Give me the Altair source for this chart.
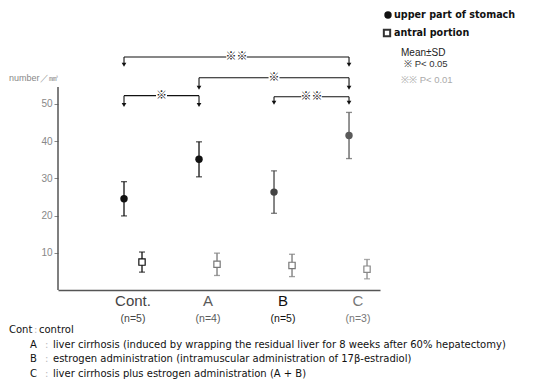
import altair as alt
import pandas as pd

# ---- data ----
groups = ["Cont.", "A", "B", "C"]
n_labels = ["(n=5)", "(n=4)", "(n=5)", "(n=3)"]
upper_mean = [24.5, 35.1, 26.3, 41.5]
upper_sd = [4.6, 4.7, 5.7, 6.2]
antral_mean = [7.5, 6.9, 6.6, 5.6]
antral_sd = [2.7, 3.0, 3.0, 2.6]

# significance brackets
br_from = ["Cont.", "A", "Cont.", "B"]
br_to = ["C", "C", "A", "C"]
br_level = [62.6, 57.0, 52.2, 51.9]
br_tip = [60.5, 54.3, 49.7, 50.3]
br_label = ["※※", "※", "※", "※※"]
br_kind = ["dark", "dark", "dark", "light"]

y_ticks = [10, 20, 30, 40, 50]
y_axis_top = 54.5

foot_keys = ["A", "B", "C"]
foot_texts = [
    "liver cirrhosis (induced by wrapping the residual liver for 8 weeks after 60% hepatectomy)",
    "estrogen administration (intramuscular administration of 17β-estradiol)",
    "liver cirrhosis plus estrogen administration (A + B)",
]

gi = {g: i for i, g in enumerate(groups)}
rows = []
for i, g in enumerate(groups):
    rows.append(dict(series="upper", group=g, idx=i, mean=upper_mean[i], sd=upper_sd[i], key="upper" + g))
    rows.append(dict(series="antral", group=g, idx=i, mean=antral_mean[i], sd=antral_sd[i], key="antral" + g))
df = pd.DataFrame(rows)

br = pd.DataFrame(dict(a=[gi[g] for g in br_from], b=[gi[g] for g in br_to],
                       level=br_level, tip=br_tip, label=br_label, kind=br_kind))
cat = pd.DataFrame(dict(group=groups, idx=list(range(4)), n=n_labels))

FONT = "Liberation Sans"
DV = "DejaVu Sans"
W, H = 322, 242
xs = alt.Scale(domain=[-1, 3.293], nice=False, zero=False)
ys = alt.Scale(domain=[0, 65], nice=False)

color_scale = alt.Scale(
    domain=["upperCont.", "upperA", "upperB", "upperC", "antralCont.", "antralA", "antralB", "antralC"],
    range=["#111111", "#111111", "#444444", "#5a5a5a", "#111111", "#777777", "#777777", "#888888"],
)
kind_scale = alt.Scale(domain=["dark", "light"], range=["#111111", "#9a9a9a"])

base = alt.Chart(df).transform_calculate(
    xpos="datum.idx + (datum.series == 'upper' ? -0.12 : 0.12)",
    lo="datum.mean - datum.sd",
    hi="datum.mean + datum.sd",
)
X = alt.X("xpos:Q", scale=xs,
          axis=alt.Axis(title=None, labels=False, ticks=False, grid=False,
                        domainColor="#555555", domainWidth=1.5))
Y = alt.Y("lo:Q", scale=ys,
          axis=alt.Axis(title=None, values=y_ticks, grid=False, domain=False, tickSize=4,
                        tickColor="#888888", labelColor="#888888", labelFontSize=10,
                        labelFont=FONT, labelPadding=2))
col = alt.Color("key:N", scale=color_scale, legend=None)

err = base.mark_rule(strokeWidth=1.3).encode(x=X, y=Y, y2="hi:Q", color=col)
cap_lo = base.mark_tick(orient="horizontal", size=6, thickness=1.3).encode(
    x="xpos:Q", y="lo:Q", color=col)
cap_hi = base.mark_tick(orient="horizontal", size=6, thickness=1.3).encode(
    x="xpos:Q", y="hi:Q", color=col)
pts_up = base.transform_filter("datum.series == 'upper'").mark_point(
    shape="circle", filled=True, size=55, opacity=1).encode(x="xpos:Q", y="mean:Q", color=col)
pts_an = base.transform_filter("datum.series == 'antral'").mark_point(
    shape="square", filled=False, size=40, strokeWidth=1.2, fill="white", fillOpacity=1, opacity=1).encode(
    x="xpos:Q", y="mean:Q", stroke=alt.Stroke("key:N", scale=color_scale, legend=None))

y_line = alt.Chart(pd.DataFrame(dict(top=[y_axis_top]))).mark_rule(
    color="#555555", strokeWidth=1.5).encode(x=alt.value(0), y=alt.Y("top:Q", scale=ys), y2=alt.datum(0))

# brackets
bb = alt.Chart(br).transform_calculate(
    xa="datum.a - 0.12", xb="datum.b - 0.12", mid="(datum.a + datum.b) / 2 - 0.12")
kc = alt.Color("kind:N", scale=kind_scale, legend=None)
h_line = bb.mark_rule(strokeWidth=1.1).encode(
    x=alt.X("xa:Q", scale=xs), x2="xb:Q", y=alt.Y("level:Q", scale=ys), color=kc)
v_left = bb.mark_rule(strokeWidth=1.1).encode(
    x=alt.X("xa:Q", scale=xs), y=alt.Y("level:Q", scale=ys), y2="tip:Q", color=kc)
v_right = bb.mark_rule(strokeWidth=1.1).encode(
    x=alt.X("xb:Q", scale=xs), y=alt.Y("level:Q", scale=ys), y2="tip:Q", color=kc)
arr_l = bb.mark_point(shape="triangle-down", filled=True, size=22, opacity=1).encode(
    x=alt.X("xa:Q", scale=xs), y=alt.Y("tip:Q", scale=ys), color=kc)
arr_r = bb.mark_point(shape="triangle-down", filled=True, size=22, opacity=1).encode(
    x=alt.X("xb:Q", scale=xs), y=alt.Y("tip:Q", scale=ys), color=kc)
lab_bg = bb.mark_point(shape="M-1,-0.5L1,-0.5L1,0.5L-1,0.5Z", filled=True, color="white",
                       opacity=1).encode(
    x=alt.X("mid:Q", scale=xs), y=alt.Y("level:Q", scale=ys),
    size=alt.Size("label:N", scale=alt.Scale(domain=["※", "※※"], range=[120, 420]), legend=None))
lab = bb.mark_text(font="Noto Sans CJK JP", fontSize=11, baseline="middle").encode(
    x=alt.X("mid:Q", scale=xs), y=alt.Y("level:Q", scale=ys), text="label:N", color=kc)

# category labels
cb = alt.Chart(cat)
cat_lab = cb.mark_text(font=FONT, fontSize=15, baseline="middle").encode(
    x=alt.X("idx:Q", scale=xs), y=alt.value(H + 11), text="group:N",
    color=alt.Color("group:N", scale=alt.Scale(domain=groups, range=["#111", "#111", "#222", "#999"]), legend=None))
n_lab = cb.mark_text(font=FONT, fontSize=10.5, baseline="middle").encode(
    x=alt.X("idx:Q", scale=xs), y=alt.value(H + 29), text="n:N",
    color=alt.Color("group:N", scale=alt.Scale(domain=groups, range=["#333", "#333", "#333", "#aaa"]), legend=None))

def txt(s, x, y, size=9.5, color="#111", bold=False, align="left", font=FONT):
    return alt.Chart(pd.DataFrame({"t": [s]})).mark_text(
        font=font, fontSize=size, align=align, baseline="middle", color=color,
        fontWeight="bold" if bold else "normal").encode(
        text="t:N", x=alt.value(x), y=alt.value(y))

# plot origin is page (58, 48)
y_title = txt("number／㎣", -49, 30, size=9, color="#888888")
FS = 10
foot = [txt("Cont", -49, 282, size=FS, font=DV), txt(":", -24, 282, size=FS, color="#bbbbbb", font=DV),
        txt("control", -19, 282, size=FS, font=DV)]
for k in range(3):
    yy = 296.5 + 14.5 * k
    foot.append(txt(foot_keys[k], -28, yy, size=FS, font=DV))
    foot.append(txt(":", -13, yy, size=FS, color="#bbbbbb", font=DV))
    foot.append(txt(foot_texts[k], -5, yy, size=FS, font=DV))

leg_c = alt.Chart(pd.DataFrame({"t": [0]})).mark_point(
    shape="circle", filled=True, size=55, color="#111", opacity=1).encode(x=alt.value(330), y=alt.value(-33))
leg_s = alt.Chart(pd.DataFrame({"t": [0]})).mark_point(
    shape="square", size=40, color="#333", fill="white", fillOpacity=1, opacity=1).encode(
    x=alt.value(329), y=alt.value(-15))
leg_t1 = txt("upper part of stomach", 336, -33, size=9.6, bold=True, font=DV)
leg_t2 = txt("antral portion", 336, -15, size=9.6, bold=True, font=DV)
leg_t3 = txt("Mean±SD", 343, 5, size=10, color="#222")
leg_t4 = txt("※  P< 0.05", 346, 16, size=9.5, color="#333")
leg_t5 = txt("※※  P< 0.01", 343, 32, size=9.5, color="#aaaaaa")

chart = alt.layer(
    err, cap_lo, cap_hi, pts_up, pts_an, y_line,
    h_line, v_left, v_right, arr_l, arr_r, lab_bg, lab,
    cat_lab, n_lab, y_title, *foot,
    leg_c, leg_s, leg_t1, leg_t2, leg_t3, leg_t4, leg_t5,
).properties(
    width=W, height=H,
    autosize=alt.AutoSizeParams(type="none"),
    padding={"left": 50, "top": 40, "right": 146, "bottom": 92},
).configure_view(stroke=None).configure_axis(labelFont=FONT)

chart.save("out.html", embed_options={"renderer": "svg", "actions": False})
